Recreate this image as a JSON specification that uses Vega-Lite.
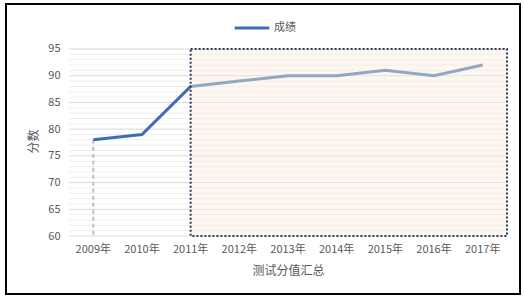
{
  "$schema": "https://vega.github.io/schema/vega-lite/v6.json",
  "width": 514,
  "height": 290,
  "autosize": {"type": "none"},
  "padding": {"left": 6, "top": 4, "right": 4, "bottom": 3},
  "background": "white",
  "config": {
    "view": {"stroke": "black", "strokeWidth": 2},
    "font": "Noto Sans CJK SC",
    "axisX": {"offset": -58, "domain": false, "ticks": false, "tickSize": 0, "grid": false,
              "labelAngle": 0, "labelPadding": 7, "labelFontSize": 11, "labelColor": "#595959",
              "titleFontSize": 12, "titleFontWeight": "normal", "titleColor": "#595959", "titlePadding": 11, "titleX": 282},
    "axisY": {"offset": -63, "domain": false, "ticks": false, "tickSize": 0, "grid": false,
              "labelPadding": 9, "labelFontSize": 11, "labelColor": "#595959",
              "titleFontSize": 12, "titleFontWeight": "normal", "titleColor": "#595959", "titlePadding": 7, "titleY": 137}
  },
  "layer": [
    {
      "data": {"values": [
        {"year": "2009年", "year2": "2017年", "score": 61}, {"year": "2009年", "year2": "2017年", "score": 62},
        {"year": "2009年", "year2": "2017年", "score": 63}, {"year": "2009年", "year2": "2017年", "score": 64},
        {"year": "2009年", "year2": "2017年", "score": 66}, {"year": "2009年", "year2": "2017年", "score": 67},
        {"year": "2009年", "year2": "2017年", "score": 68}, {"year": "2009年", "year2": "2017年", "score": 69},
        {"year": "2009年", "year2": "2017年", "score": 71}, {"year": "2009年", "year2": "2017年", "score": 72},
        {"year": "2009年", "year2": "2017年", "score": 73}, {"year": "2009年", "year2": "2017年", "score": 74},
        {"year": "2009年", "year2": "2017年", "score": 76}, {"year": "2009年", "year2": "2017年", "score": 77},
        {"year": "2009年", "year2": "2017年", "score": 78}, {"year": "2009年", "year2": "2017年", "score": 79},
        {"year": "2009年", "year2": "2017年", "score": 81}, {"year": "2009年", "year2": "2017年", "score": 82},
        {"year": "2009年", "year2": "2017年", "score": 83}, {"year": "2009年", "year2": "2017年", "score": 84},
        {"year": "2009年", "year2": "2017年", "score": 86}, {"year": "2009年", "year2": "2017年", "score": 87},
        {"year": "2009年", "year2": "2017年", "score": 88}, {"year": "2009年", "year2": "2017年", "score": 89},
        {"year": "2009年", "year2": "2017年", "score": 91}, {"year": "2009年", "year2": "2017年", "score": 92},
        {"year": "2009年", "year2": "2017年", "score": 93}, {"year": "2009年", "year2": "2017年", "score": 94}
      ]},
      "mark": {"type": "rule", "color": "#eeeeee", "strokeWidth": 1},
      "encoding": {
        "x": {"field": "year", "type": "ordinal", "bandPosition": 0, "title": "测试分值汇总",
              "scale": {"type": "band", "domain": ["2009年","2010年","2011年","2012年","2013年","2014年","2015年","2016年","2017年"], "paddingInner": 0, "paddingOuter": 0.78, "align": 0.829}},
        "x2": {"field": "year2", "bandPosition": 1},
        "y": {"field": "score", "type": "quantitative", "title": "分数",
              "axis": {"values": [60, 65, 70, 75, 80, 85, 90, 95]},
              "scale": {"domain": [49.145, 103.42], "nice": false, "zero": false}}
      }
    },
    {
      "data": {"values": [
        {"year": "2009年", "year2": "2017年", "score": 60}, {"year": "2009年", "year2": "2017年", "score": 65},
        {"year": "2009年", "year2": "2017年", "score": 70}, {"year": "2009年", "year2": "2017年", "score": 75},
        {"year": "2009年", "year2": "2017年", "score": 80}, {"year": "2009年", "year2": "2017年", "score": 85},
        {"year": "2009年", "year2": "2017年", "score": 90}, {"year": "2009年", "year2": "2017年", "score": 95}
      ]},
      "mark": {"type": "rule", "color": "#d9d9d9", "strokeWidth": 1},
      "encoding": {
        "x": {"field": "year", "type": "ordinal", "bandPosition": 0, "title": "测试分值汇总",
              "scale": {"type": "band", "domain": ["2009年","2010年","2011年","2012年","2013年","2014年","2015年","2016年","2017年"], "paddingInner": 0, "paddingOuter": 0.78, "align": 0.829}},
        "x2": {"field": "year2", "bandPosition": 1},
        "y": {"field": "score", "type": "quantitative", "title": "分数",
              "axis": {"values": [60, 65, 70, 75, 80, 85, 90, 95]},
              "scale": {"domain": [49.145, 103.42], "nice": false, "zero": false}}
      }
    },
    {
      "data": {"values": [{"year": "2009年", "score": 78, "score2": 60}]},
      "mark": {"type": "rule", "color": "#bfbfbf", "strokeWidth": 2, "strokeDash": [4, 3]},
      "encoding": {
        "x": {"field": "year", "type": "ordinal", "bandPosition": 0.5, "title": "测试分值汇总",
              "scale": {"type": "band", "domain": ["2009年","2010年","2011年","2012年","2013年","2014年","2015年","2016年","2017年"], "paddingInner": 0, "paddingOuter": 0.78, "align": 0.829}},
        "y": {"field": "score", "type": "quantitative", "title": "分数",
              "axis": {"values": [60, 65, 70, 75, 80, 85, 90, 95]},
              "scale": {"domain": [49.145, 103.42], "nice": false, "zero": false}},
        "y2": {"field": "score2"}
      }
    },
    {
      "data": {"values": [
        {"year": "2009年", "score": 78, "series": "成绩"},
        {"year": "2010年", "score": 79, "series": "成绩"},
        {"year": "2011年", "score": 88, "series": "成绩"},
        {"year": "2012年", "score": 89, "series": "成绩"},
        {"year": "2013年", "score": 90, "series": "成绩"},
        {"year": "2014年", "score": 90, "series": "成绩"},
        {"year": "2015年", "score": 91, "series": "成绩"},
        {"year": "2016年", "score": 90, "series": "成绩"},
        {"year": "2017年", "score": 92, "series": "成绩"}
      ]},
      "mark": {"type": "line", "strokeWidth": 3},
      "encoding": {
        "x": {"field": "year", "type": "ordinal", "bandPosition": 0.5, "title": "测试分值汇总",
              "scale": {"type": "band", "domain": ["2009年","2010年","2011年","2012年","2013年","2014年","2015年","2016年","2017年"], "paddingInner": 0, "paddingOuter": 0.78, "align": 0.829}},
        "y": {"field": "score", "type": "quantitative", "title": "分数",
              "axis": {"values": [60, 65, 70, 75, 80, 85, 90, 95]},
              "scale": {"domain": [49.145, 103.42], "nice": false, "zero": false}},
        "color": {"field": "series", "type": "nominal",
                  "scale": {"domain": ["成绩"], "range": ["#3d6db3"]},
                  "legend": {"title": null, "orient": "none", "legendX": 227, "legendY": 5,
                             "symbolType": "stroke", "symbolSize": 1200, "symbolStrokeWidth": 3,
                             "labelFontSize": 11, "labelColor": "#595959", "labelOffset": 3}}
      }
    },
    {
      "data": {"values": [{"year": "2011年", "year2": "2017年", "score": 95, "score2": 60}]},
      "mark": {"type": "rect", "fill": "#fcece0", "fillOpacity": 0.45, "stroke": "#2b3a58", "strokeWidth": 2, "strokeDash": [2, 2]},
      "encoding": {
        "x": {"field": "year", "type": "ordinal", "bandPosition": 0.5, "title": "测试分值汇总",
              "scale": {"type": "band", "domain": ["2009年","2010年","2011年","2012年","2013年","2014年","2015年","2016年","2017年"], "paddingInner": 0, "paddingOuter": 0.78, "align": 0.829}},
        "x2": {"field": "year2", "bandPosition": 1},
        "y": {"field": "score", "type": "quantitative", "title": "分数",
              "axis": {"values": [60, 65, 70, 75, 80, 85, 90, 95]},
              "scale": {"domain": [49.145, 103.42], "nice": false, "zero": false}},
        "y2": {"field": "score2"}
      }
    }
  ]
}
